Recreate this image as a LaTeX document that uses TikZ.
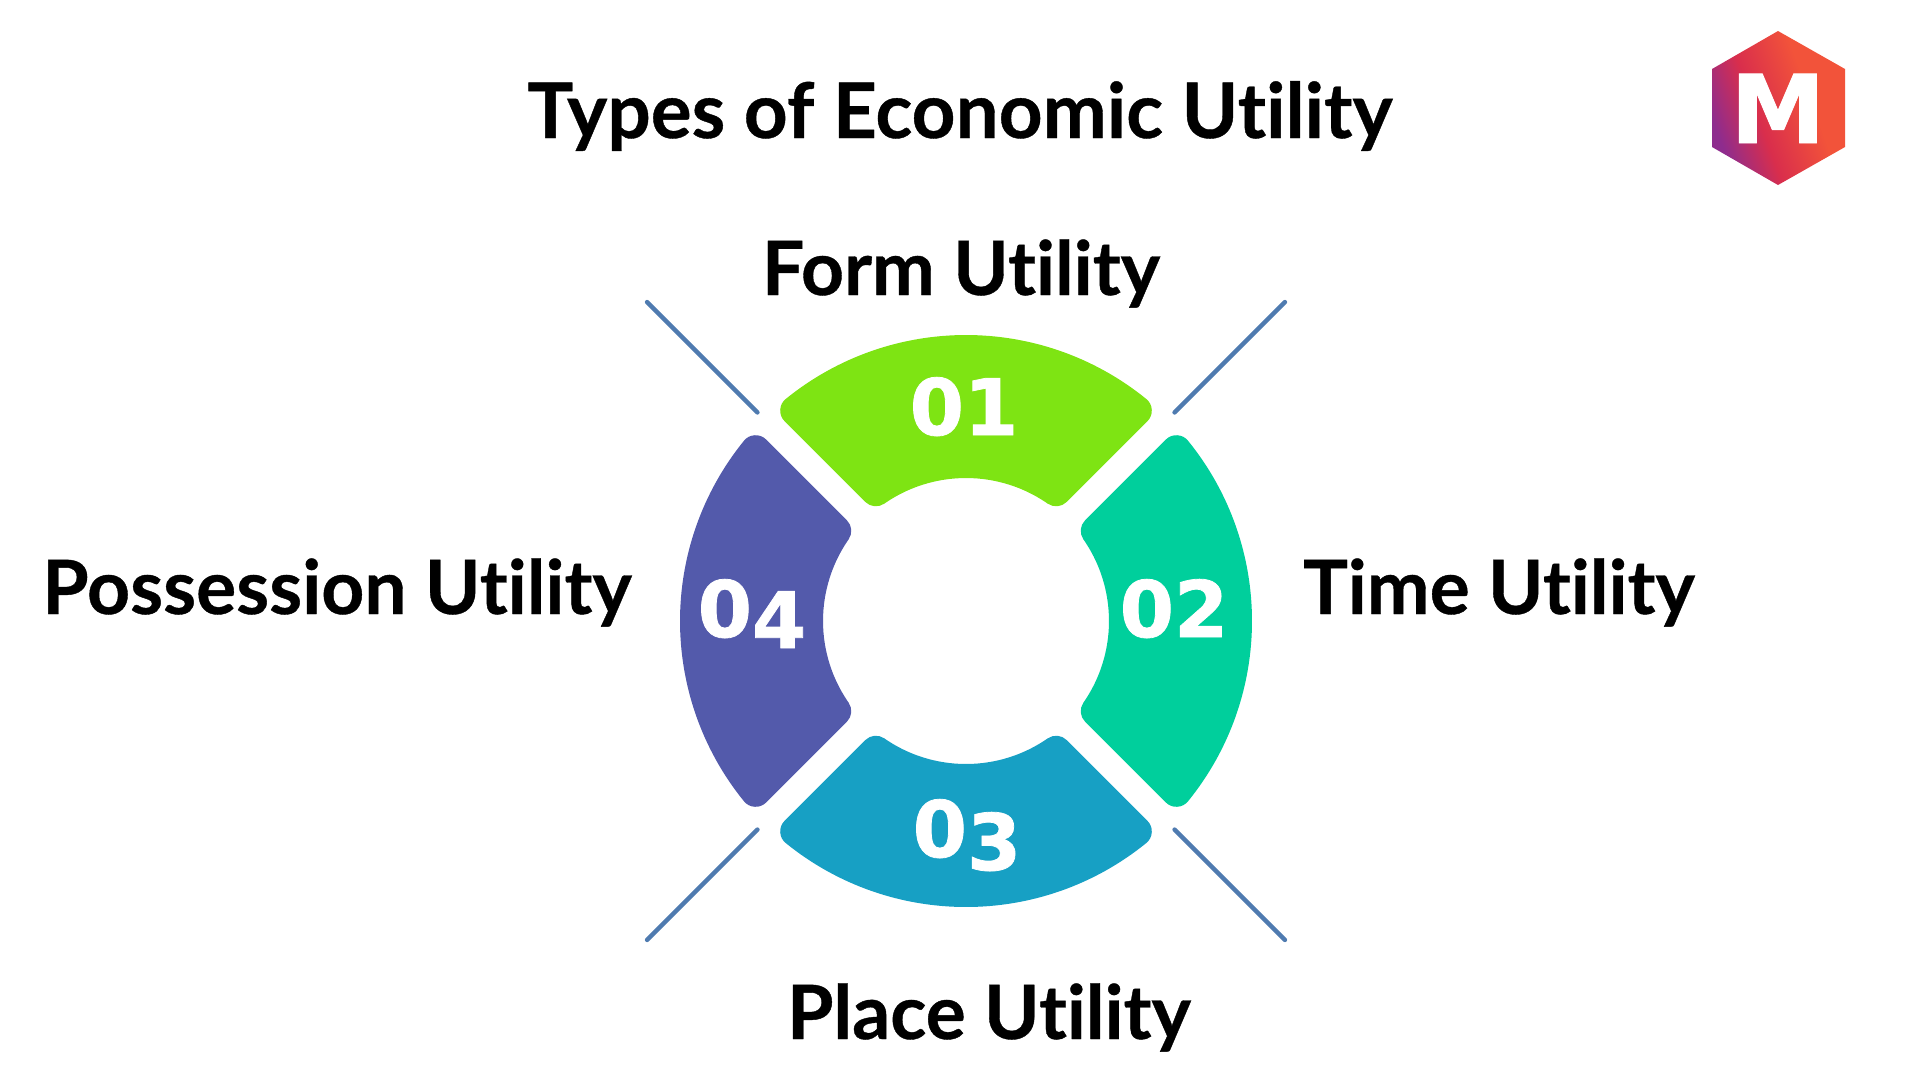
\documentclass[tikz,border=0pt]{standalone}
\usepackage{fontspec}
\setmainfont{Lato}[Ligatures=NoCommon, BoldFeatures={FakeBold=0.5}]
\newfontfamily\numfont{DejaVu Sans}[BoldFeatures={FakeBold=1}]
\definecolor{segA}{HTML}{7EE413}
\definecolor{segB}{HTML}{00CF9C}
\definecolor{segC}{HTML}{17A0C4}
\definecolor{segD}{HTML}{535AAB}
\definecolor{rayblue}{HTML}{4F7BB0}
\definecolor{logoP}{HTML}{8E2C8E}
\definecolor{logoM}{HTML}{D92E4C}
\definecolor{logoO}{HTML}{F2533A}
\pgfdeclarehorizontalshading{logograd}{100bp}{color(0bp)=(logoP); color(26bp)=(logoP); color(42bp)=(logoM); color(62bp)=(logoO); color(100bp)=(logoO)}
\tikzset{
    utility/.style={font=\fontsize{75}{80}\selectfont\bfseries, text=black, anchor=base, inner sep=0pt},
    number/.style={font=\fontsize{78}{82}\numfont\bfseries, text=white, anchor=base, inner sep=0pt},
    ray/.style={draw=rayblue, line width=4.5pt, line cap=round}
}
\begin{document}
\begin{tikzpicture}[x=1pt,y=-1pt]
    \useasboundingbox (0,0) rectangle (1920,1080);

    % Ring segments: inset outline plus a thick round stroke gives the soft corners
    \pgfmathsetmacro{\corner}{15}
    \pgfmathsetmacro{\outerR}{286-\corner}
    \pgfmathsetmacro{\innerR}{143+\corner}
    \pgfmathsetmacro{\outerA}{45-asin((13+\corner)/\outerR)}
    \pgfmathsetmacro{\innerA}{45-asin((13+\corner)/\innerR)}
    \begin{scope}[shift={(966,621)}]
        \foreach \ang/\col in {-90/segA, 0/segB, 90/segC, 180/segD} {
            \path[fill=\col, draw=\col, line width=2*\corner pt, line join=round]
                (\ang-\outerA:\outerR) arc[start angle=\ang-\outerA, end angle=\ang+\outerA, radius=\outerR]
                -- (\ang+\innerA:\innerR) arc[start angle=\ang+\innerA, end angle=\ang-\innerA, radius=\innerR]
                -- cycle;
        }
        % Diagonal rays
        \foreach \ang in {45,135,225,315} {
            \coordinate (rayin\ang) at (\ang:295);
            \coordinate (rayout\ang) at (\ang:451);
            \draw[ray] (rayin\ang) -- (rayout\ang);
        }
    \end{scope}

    % Numbers
    \node[number] (numA) at (964,435) {01};
    \node[number] (numB) at (1174,637) {02};
    \node[number] (numC) at (967,857) {0\lower 13pt\hbox{3}};
    \node[number] (numD) at (752,637) {0\lower 11pt\hbox{4}};

    % Labels
    \node[utility, font=\fontsize{76.5}{80}\selectfont\bfseries] (title) at (960,138) {Types of Economic Utility};
    \node[utility] (formlab) at (961,295) {Form Utility};
    \node[utility] (timelab) at (1499,614) {Time Utility};
    \node[utility] (placelab) at (989,1039) {Place Utility};
    \node[utility] (posslab) at (337,614) {Possession Utility};

    % Logo
    \path[shading=logograd, shading angle=20]
        (1778,31) -- (1845,69) -- (1845,147) -- (1778,185) -- (1712,147) -- (1712,69) -- cycle;
    \node[font=\fontsize{95}{95}\numfont\bfseries, text=white, anchor=base, inner sep=0pt] (logoM) at (1778,143) {M};
\end{tikzpicture}
\end{document}
